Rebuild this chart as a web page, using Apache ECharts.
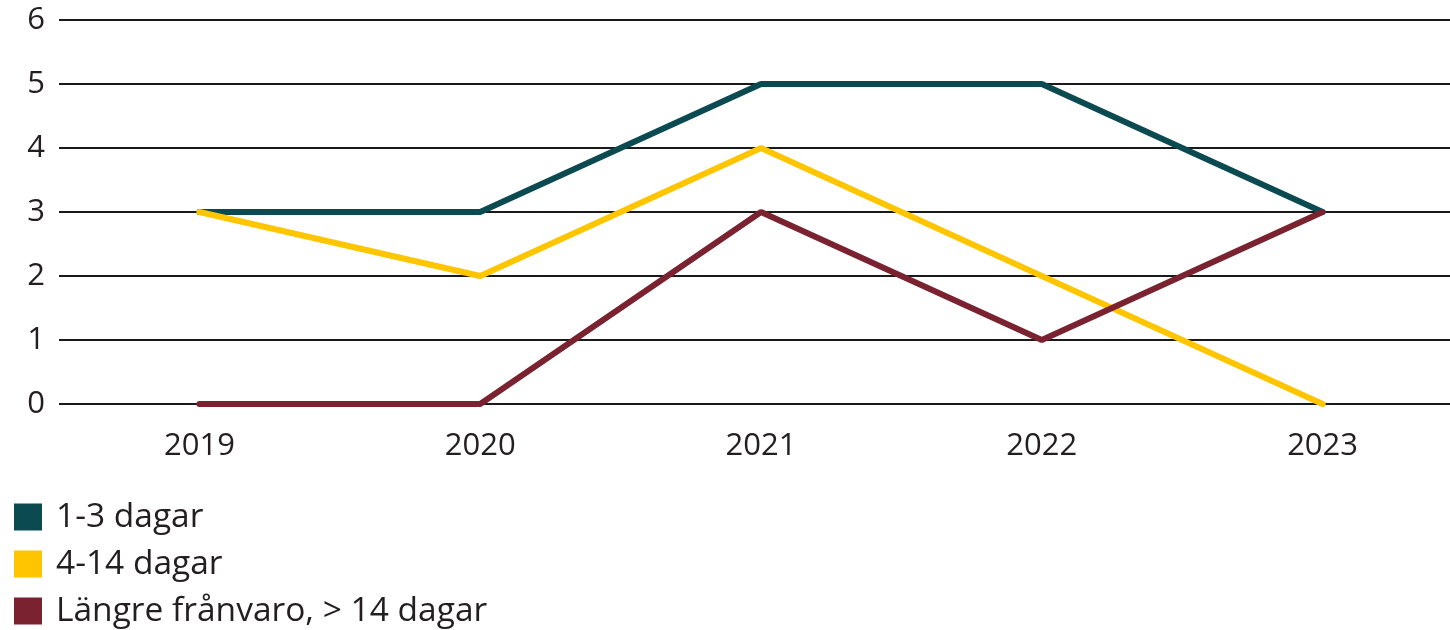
<!DOCTYPE html>
<html>
<head>
<meta charset="utf-8">
<script src="https://cdn.jsdelivr.net/npm/echarts@6/dist/echarts.min.js"></script>
<style>
html,body{margin:0;padding:0;background:#fff;}
#c{width:1450px;height:630px;}
</style>
</head>
<body>
<div id="c"></div>
<script>
const categories = ['2019', '2020', '2021', '2022', '2023'];
const seriesNames = ['1-3 dagar', '4-14 dagar', 'Längre frånvaro, > 14 dagar'];
const days1to3 = [3, 3, 5, 5, 3];
const days4to14 = [3, 2, 4, 2, 0];
const longAbsence = [0, 0, 3, 1, 3];
const colors = ['#0b4a50', '#ffc600', '#7a2230'];

const chart = echarts.init(document.getElementById('c'));
const font = '"Open Sans", sans-serif';
chart.setOption({
  animation: false,
  color: colors,
  grid: { left: 59, width: 1404, top: 20, bottom: 226, outerBoundsMode: 'none', containLabel: false },
  legend: {
    orient: 'vertical', left: 14, top: 500, padding: 0, height: 200,
    itemWidth: 28, itemHeight: 27, itemGap: 13,
    icon: 'rect',
    data: seriesNames,
    textStyle: { fontFamily: font, fontSize: 33.5, lineHeight: 27, color: '#231f20', padding: [0, 0, 0, 9] }
  },
  xAxis: {
    type: 'category', data: categories, boundaryGap: true,
    axisLine: { show: false }, axisTick: { show: false },
    axisLabel: { fontFamily: font, fontSize: 31, color: '#231f20', margin: 27 }
  },
  yAxis: {
    type: 'value', min: 0, max: 6, interval: 1,
    axisLine: { show: false }, axisTick: { show: false },
    axisLabel: { fontFamily: font, fontSize: 31, color: '#231f20', margin: 14 },
    splitLine: { lineStyle: { color: '#1a1a1a', width: 2 } }
  },
  series: [
    { name: seriesNames[0], type: 'line', data: days1to3, symbol: 'none', lineStyle: { width: 6, cap: 'round' }, z: 2 },
    { name: seriesNames[1], type: 'line', data: days4to14, symbol: 'none', lineStyle: { width: 6, cap: 'round' }, z: 3 },
    { name: seriesNames[2], type: 'line', data: longAbsence, symbol: 'none', lineStyle: { width: 6, cap: 'round' }, z: 4 }
  ]
});
</script>
</body>
</html>
